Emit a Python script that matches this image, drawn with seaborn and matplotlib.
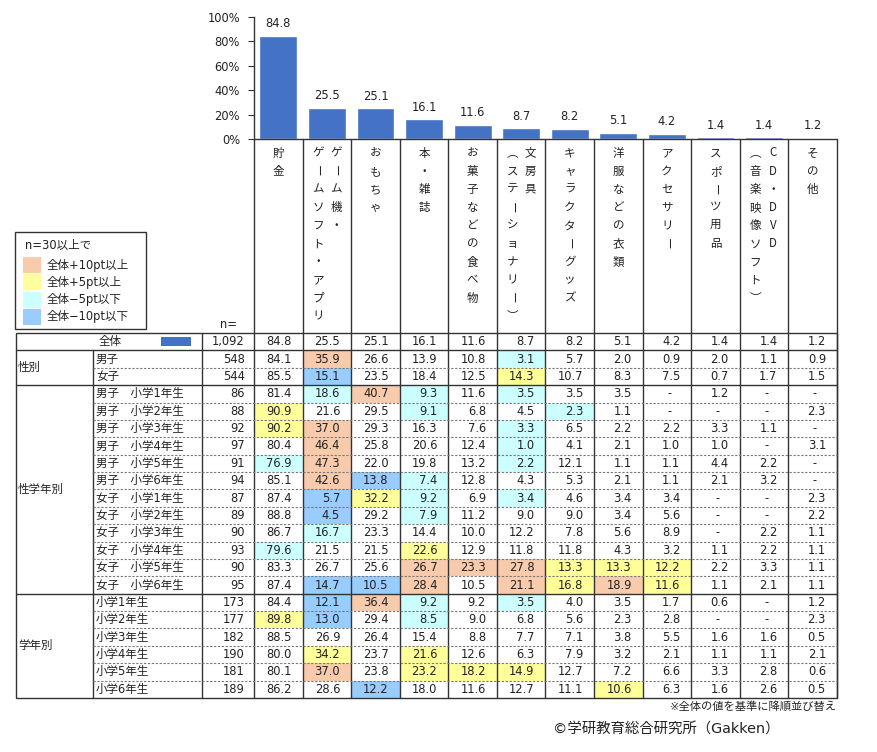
import numpy as np
import pandas as pd
import matplotlib
matplotlib.use("Agg")
import matplotlib.pyplot as plt
from matplotlib.colors import ListedColormap
from matplotlib.patches import Rectangle
import seaborn as sns

# ---- data ----
categories = ["貯金", "ゲーム機・\nゲームソフト・アプリ", "おもちゃ", "本・雑誌",
              "お菓子などの食べ物", "文房具\n（ステーショナリー）", "キャラクターグッズ",
              "洋服などの衣類", "アクセサリー", "スポーツ用品",
              "CD・DVD\n（音楽映像ソフト）", "その他"]
total_n = 1092
total_values = [84.8, 25.5, 25.1, 16.1, 11.6, 8.7, 8.2, 5.1, 4.2, 1.4, 1.4, 1.2]

sex_labels = ["男子", "女子"]
sex_n = [548, 544]
sex_values = [
    [84.1, 35.9, 26.6, 13.9, 10.8, 3.1, 5.7, 2.0, 0.9, 2.0, 1.1, 0.9],
    [85.5, 15.1, 23.5, 18.4, 12.5, 14.3, 10.7, 8.3, 7.5, 0.7, 1.7, 1.5],
]

sexgrade_labels = ["男子　小学1年生", "男子　小学2年生", "男子　小学3年生",
                   "男子　小学4年生", "男子　小学5年生", "男子　小学6年生",
                   "女子　小学1年生", "女子　小学2年生", "女子　小学3年生",
                   "女子　小学4年生", "女子　小学5年生", "女子　小学6年生"]
sexgrade_n = [86, 88, 92, 97, 91, 94, 87, 89, 90, 93, 90, 95]
sexgrade_values = [
    [81.4, 18.6, 40.7, 9.3, 11.6, 3.5, 3.5, 3.5, None, 1.2, None, None],
    [90.9, 21.6, 29.5, 9.1, 6.8, 4.5, 2.3, 1.1, None, None, None, 2.3],
    [90.2, 37.0, 29.3, 16.3, 7.6, 3.3, 6.5, 2.2, 2.2, 3.3, 1.1, None],
    [80.4, 46.4, 25.8, 20.6, 12.4, 1.0, 4.1, 2.1, 1.0, 1.0, None, 3.1],
    [76.9, 47.3, 22.0, 19.8, 13.2, 2.2, 12.1, 1.1, 1.1, 4.4, 2.2, None],
    [85.1, 42.6, 13.8, 7.4, 12.8, 4.3, 5.3, 2.1, 1.1, 2.1, 3.2, None],
    [87.4, 5.7, 32.2, 9.2, 6.9, 3.4, 4.6, 3.4, 3.4, None, None, 2.3],
    [88.8, 4.5, 29.2, 7.9, 11.2, 9.0, 9.0, 3.4, 5.6, None, None, 2.2],
    [86.7, 16.7, 23.3, 14.4, 10.0, 12.2, 7.8, 5.6, 8.9, None, 2.2, 1.1],
    [79.6, 21.5, 21.5, 22.6, 12.9, 11.8, 11.8, 4.3, 3.2, 1.1, 2.2, 1.1],
    [83.3, 26.7, 25.6, 26.7, 23.3, 27.8, 13.3, 13.3, 12.2, 2.2, 3.3, 1.1],
    [87.4, 14.7, 10.5, 28.4, 10.5, 21.1, 16.8, 18.9, 11.6, 1.1, 2.1, 1.1],
]

grade_labels = ["小学1年生", "小学2年生", "小学3年生", "小学4年生", "小学5年生", "小学6年生"]
grade_n = [173, 177, 182, 190, 181, 189]
grade_values = [
    [84.4, 12.1, 36.4, 9.2, 9.2, 3.5, 4.0, 3.5, 1.7, 0.6, None, 1.2],
    [89.8, 13.0, 29.4, 8.5, 9.0, 6.8, 5.6, 2.3, 2.8, None, None, 2.3],
    [88.5, 26.9, 26.4, 15.4, 8.8, 7.7, 7.1, 3.8, 5.5, 1.6, 1.6, 0.5],
    [80.0, 34.2, 23.7, 21.6, 12.6, 6.3, 7.9, 3.2, 2.1, 1.1, 1.1, 2.1],
    [80.1, 37.0, 23.8, 23.2, 18.2, 14.9, 12.7, 7.2, 6.6, 3.3, 2.8, 0.6],
    [86.2, 28.6, 12.2, 18.0, 11.6, 12.7, 11.1, 10.6, 6.3, 1.6, 2.6, 0.5],
]

legend_labels = ["全体+10pt以上", "全体+5pt以上", "全体−5pt以下", "全体−10pt以下"]
highlight_colors = ["#F8CBAD", "#FFFF99", "#CCFFFF", "#99CCFF"]
bar_color = "#4472C4"

# ---- style ----
sns.set_style("white")
plt.rcParams["font.family"] = ["DejaVu Sans", "Noto Sans CJK JP"]
FS = 8.3
TXT = "#222222"
LINE = "#333333"

W, H = 878, 752
fig = plt.figure(figsize=(W / 100, H / 100), dpi=100)

# layout (pixels)
X0, XG, XN, XD, XR = 16, 93, 202, 254, 837
Y_TOP, YH, Y0, Y1 = 17, 139, 333, 698
ncol = len(categories)
CW = (XR - XD) / ncol

groups = [("", ["全体"], [total_n], [total_values]),
          ("性別", sex_labels, sex_n, sex_values),
          ("性学年別", sexgrade_labels, sexgrade_n, sexgrade_values),
          ("学年別", grade_labels, grade_n, grade_values)]
rows = []
for g, labels, ns, vals in groups:
    for lab, n, v in zip(labels, ns, vals):
        rows.append((g, lab, n, v))
nrow = len(rows)
RH = (Y1 - Y0) / nrow


def code(v, base):
    d = round((0.0 if v is None else v) - base, 1)
    if d >= 10:
        return 1
    if d >= 5:
        return 2
    if d <= -10:
        return 4
    if d <= -5:
        return 3
    return 0


codes = np.array([[0] * ncol] + [[code(v, b) for v, b in zip(r[3], total_values)]
                                 for r in rows[1:]])

# ---- bar chart ----
ax_bar = fig.add_axes([XD / W, 1 - YH / H, (XR - XD) / W, (YH - Y_TOP) / H])
df = pd.DataFrame({"item": categories, "value": total_values})
sns.barplot(data=df, x="item", y="value", order=categories, color=bar_color,
            saturation=1, width=0.78, ax=ax_bar)
ax_bar.set_xlim(-0.5, ncol - 0.5)
ax_bar.set_ylim(0, 100)
ax_bar.set_yticks(range(0, 101, 20))
ax_bar.set_yticklabels([f"{t}%" for t in range(0, 101, 20)], fontsize=FS, color=TXT)
ax_bar.set_xticks([])
ax_bar.set_xlabel("")
ax_bar.set_ylabel("")
ax_bar.tick_params(axis="y", left=True, length=4, width=0.8, color=LINE, pad=6)
for s in ["top", "right", "bottom"]:
    ax_bar.spines[s].set_visible(False)
ax_bar.spines["left"].set_color(LINE)
ax_bar.spines["left"].set_linewidth(1)
ax_bar.bar_label(ax_bar.containers[0], fmt="%.1f", padding=4, fontsize=FS, color=TXT)
ax_bar.set_facecolor("none")

# ---- cell colours ----
ax_hm = fig.add_axes([XD / W, 1 - Y1 / H, (XR - XD) / W, (Y1 - Y0) / H])
sns.heatmap(codes, cmap=ListedColormap(["white"] + highlight_colors), vmin=-0.5, vmax=4.5,
            cbar=False, xticklabels=False, yticklabels=False, ax=ax_hm)
ax_hm.set_xticks([])
ax_hm.set_yticks([])

# ---- overlay for table text and lines ----
ax = fig.add_axes([0, 0, 1, 1])
ax.set_xlim(0, W)
ax.set_ylim(H, 0)
ax.axis("off")
ax.patch.set_alpha(0)

solid = dict(color=LINE, lw=1)
dash = dict(color="#777777", lw=0.8, linestyle=(0, (2, 1.5)))

# header
ax.plot([XD, XR], [YH, YH], **solid)
for c in range(ncol + 1):
    ax.plot([XD + c * CW] * 2, [YH, Y1], **solid)

vertical_forms = {"（": "\ufe35", "）": "\ufe36"}
for c, lab in enumerate(categories):
    cx = XD + (c + 0.5) * CW
    lines = lab.split("\n")
    offs = [0] if len(lines) == 1 else [9, -9]
    for line, off in zip(lines, offs):
        for k, ch in enumerate(line):
            rot = -90 if ch == "ー" else 0
            ax.text(cx + off, 153 + k * 18.15, vertical_forms.get(ch, ch),
                    ha="center", va="center", rotation=rot, fontsize=FS, color=TXT,
                    family=["Noto Sans CJK JP", "DejaVu Sans"])

# table frame
ax.add_patch(Rectangle((X0, Y0), XR - X0, Y1 - Y0, fill=False, ec=LINE, lw=1))
ax.plot([XN, XN], [Y0, Y1], **solid)
ax.plot([XG, XG], [Y0 + RH, Y1], **solid)

start = 0
for g, labels, ns, vals in groups:
    end = start + len(labels)
    if start > 0:
        ax.plot([X0, XR], [Y0 + start * RH] * 2, **solid)
    for r in range(start + 1, end):
        ax.plot([XG, XR], [Y0 + r * RH] * 2, **dash)
    if g:
        ax.text(X0 + 2, Y0 + (start + end) / 2 * RH, g, ha="left", va="center",
                fontsize=FS, color=TXT)
    start = end

# rows
for r, (g, lab, n, vals) in enumerate(rows):
    cy = Y0 + (r + 0.5) * RH
    if r == 0:
        ax.text(110, cy, lab, ha="center", va="center", fontsize=FS, color=TXT)
        ax.add_patch(Rectangle((160.7, cy - 4.3), 30, 8.6, color=bar_color, lw=0))
    else:
        ax.text(XG + 3, cy, lab, ha="left", va="center", fontsize=FS, color=TXT)
    ax.text(XD - 9, cy, f"{n:,}", ha="right", va="center", fontsize=FS, color=TXT)
    for c, v in enumerate(vals):
        right = XD + (c + 1) * CW
        if v is None:
            ax.text(right - 22, cy, "-", ha="center", va="center", fontsize=FS, color=TXT)
        else:
            ax.text(right - 11, cy, f"{v:.1f}", ha="right", va="center", fontsize=FS, color=TXT)

ax.text(XD - 17, 324, "n=", ha="right", va="center", fontsize=FS, color=TXT)

# legend box
ax.add_patch(Rectangle((15, 232), 131, 97, fill=False, ec=LINE, lw=1))
ax.text(25, 245, "n=30以上で", ha="left", va="center", fontsize=FS, color=TXT)
for i, (lab, col) in enumerate(zip(legend_labels, highlight_colors)):
    y = 257 + i * 17.3
    ax.add_patch(Rectangle((23, y), 18, 16, color=col, lw=0))
    ax.text(47, y + 8, lab, ha="left", va="center", fontsize=FS, color=TXT)

# notes
ax.text(XR, 707, "※全体の値を基準に降順並び替え", ha="right", va="center",
        fontsize=8.1, color=TXT)
ax.text(666, 730, "©学研教育総合研究所（Gakken）", ha="center", va="center",
        fontsize=10.4, color=TXT)

fig.savefig("out.png", dpi=100, facecolor="white")
